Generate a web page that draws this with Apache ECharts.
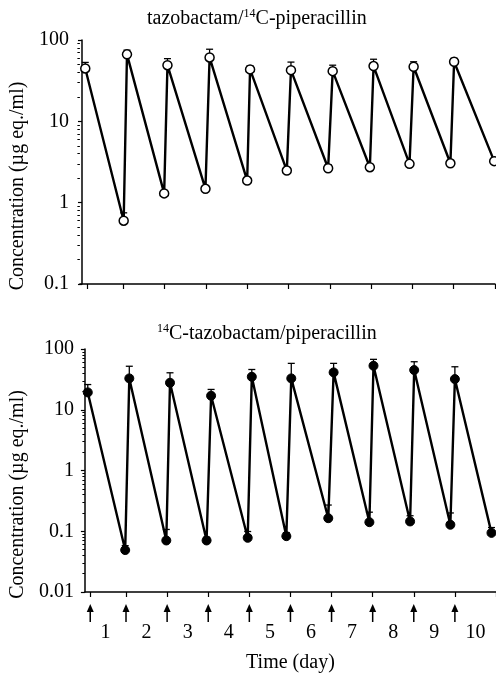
<!DOCTYPE html>
<html>
<head>
<meta charset="utf-8">
<script src="https://cdn.jsdelivr.net/npm/echarts@6/dist/echarts.min.js"></script>
<style>
  html, body { margin: 0; padding: 0; background: #fff; }
  #chart { width: 496px; height: 677px; }
</style>
</head>
<body>
<div id="chart"></div>
<script>
// top panel: tazobactam / 14C-piperacillin (open circles)
const pipTime = [0.08, 1.01, 1.09, 1.99, 2.07, 2.99, 3.09, 4.0, 4.07, 4.96, 5.06, 5.96, 6.07, 6.97, 7.06, 7.93, 8.03, 8.92, 9.01, 9.98]
const pipConc = [44.7, 0.6, 66.6, 1.3, 49, 1.48, 61, 1.87, 43.5, 2.48, 42.6, 2.65, 41.4, 2.73, 47.8, 3.0, 46.9, 3.05, 54, 3.24]
const pipUpper = [53, 0.75, 75, 1.4, 59, 1.6, 77, 2.0, 48, 2.7, 53.5, 2.93, 49, 2.9, 58, 3.2, 54, 3.25, 59.5, 3.4]

// bottom panel: 14C-tazobactam / piperacillin (filled circles)
const tazTime = [0.07, 0.98, 1.08, 1.98, 2.07, 2.96, 3.07, 3.96, 4.06, 4.9, 5.02, 5.92, 6.05, 6.92, 7.02, 7.91, 8.01, 8.89, 9.0, 9.89]
const tazConc = [19.3, 0.049, 32.8, 0.0705, 27.8, 0.0705, 17, 0.078, 34.9, 0.083, 32.8, 0.164, 41.2, 0.141, 53, 0.145, 45, 0.128, 32, 0.094]
const tazUpper = [26, 0.058, 52, 0.107, 40.6, 0.08, 21.6, 0.099, 46, 0.095, 58, 0.27, 58, 0.206, 67.6, 0.18, 61.7, 0.2, 51, 0.115]

// dosing times (arrows) and axis ticks
const doseTimes = [0.13, 1, 2, 3, 4, 5, 6, 7, 8, 9]
const xTicks = doseTimes.concat([10])
const dayPos = [0.5, 1.5, 2.5, 3.5, 4.5, 5.5, 6.5, 7.5, 8.5, 9.5]
const dayLabels = ['1', '2', '3', '4', '5', '6', '7', '8', '9', '10']

const topMajor = [0.1, 1, 10, 100]
const bottomMajor = [0.01, 0.1, 1, 10, 100]

const font = 'Liberation Serif'

function minorTicks(major) {
  const out = []
  for (let i = 0; i < major.length - 1; i++) {
    for (let k = 2; k <= 9; k++) out.push(+(major[i] * k).toPrecision(3))
  }
  return out
}

function yAxes(gridIndex, major) {
  return [
    {
      type: 'log', logBase: 10, gridIndex: gridIndex, position: 'left',
      min: major[0], max: major[major.length - 1],
      axisLine: { lineStyle: { color: '#000', width: 1.5 } },
      axisTick: { inside: false, length: 4, customValues: major, lineStyle: { color: '#000', width: 1.2 } },
      axisLabel: {
        customValues: major, margin: 11, color: '#000', fontFamily: font, fontSize: 20,
        formatter: v => String(+v.toPrecision(3))
      },
      splitLine: { show: false },
      name: 'Concentration (µg eq./ml)', nameLocation: 'middle', nameGap: 49,
      nameTextStyle: { fontFamily: font, fontSize: 20, color: '#000', padding: [0, 48, 0, 0] }
    },
    {
      type: 'log', logBase: 10, gridIndex: gridIndex, position: 'left',
      min: major[0], max: major[major.length - 1],
      axisLine: { show: false },
      axisTick: { length: 2.5, customValues: minorTicks(major), lineStyle: { color: '#000', width: 1 } },
      axisLabel: { show: false },
      splitLine: { show: false }
    }
  ]
}

function errorBars(times, conc, upper, xi, yi) {
  return {
    type: 'custom', xAxisIndex: xi, yAxisIndex: yi, z: 1,
    data: times.map((t, i) => [t, conc[i], upper[i]]),
    encode: { x: 0, y: [1, 2] },
    renderItem: (params, api) => {
      const p0 = api.coord([api.value(0), api.value(1)])
      const p1 = api.coord([api.value(0), api.value(2)])
      const st = { stroke: '#000', lineWidth: 1.3 }
      return {
        type: 'group',
        children: [
          { type: 'line', shape: { x1: p0[0], y1: p0[1], x2: p1[0], y2: p1[1] }, style: st },
          { type: 'line', shape: { x1: p1[0] - 3.5, y1: p1[1], x2: p1[0] + 3.5, y2: p1[1] }, style: st }
        ]
      }
    }
  }
}

const chart = echarts.init(document.getElementById('chart'), null, { renderer: 'canvas' })

const supRich = {
  a: { fontFamily: font, fontSize: 20, fontWeight: 'normal', color: '#000', lineHeight: 22 },
  s: { fontFamily: font, fontSize: 12, fontWeight: 'normal', color: '#000', verticalAlign: 'top', lineHeight: 12 }
}

chart.setOption({
  animation: false,
  backgroundColor: '#fff',
  title: [
    { text: '{a|tazobactam/}{s|14}{a|C-piperacillin}', left: 142, top: 3, textStyle: { fontWeight: 'normal', rich: supRich } },
    { text: '{s|14}{a|C-tazobactam/piperacillin}', left: 152, top: 318, textStyle: { fontWeight: 'normal', rich: supRich } }
  ],
  grid: [
    { left: 78, top: 40, width: 417, height: 244 },
    { left: 81, top: 349, width: 416, height: 243 }
  ],
  xAxis: [
    {
      type: 'value', gridIndex: 0, position: 'bottom', min: -0.05, max: 10,
      axisLine: { onZero: false, lineStyle: { color: '#000', width: 1.5 } },
      axisTick: { length: 5, customValues: xTicks, lineStyle: { color: '#000', width: 1.2 } },
      axisLabel: { show: false },
      splitLine: { show: false }
    },
    {
      type: 'value', gridIndex: 1, position: 'bottom', min: 0, max: 10,
      axisLine: { onZero: false, lineStyle: { color: '#000', width: 1.5 } },
      axisTick: { length: 5, customValues: xTicks, lineStyle: { color: '#000', width: 1.2 } },
      axisLabel: {
        customValues: dayPos, margin: 31, color: '#000', fontFamily: font, fontSize: 20,
        formatter: v => dayLabels[dayPos.indexOf(v)]
      },
      splitLine: { show: false },
      name: 'Time (day)', nameLocation: 'middle', nameGap: 61,
      nameTextStyle: { fontFamily: font, fontSize: 20, color: '#000' }
    }
  ],
  yAxis: yAxes(0, topMajor).concat(yAxes(1, bottomMajor)),
  series: [
    errorBars(pipTime, pipConc, pipUpper, 0, 0),
    {
      type: 'line', xAxisIndex: 0, yAxisIndex: 0, z: 3,
      data: pipTime.map((t, i) => [t, pipConc[i]]),
      symbol: 'circle', symbolSize: 9,
      lineStyle: { color: '#000', width: 2.4 },
      itemStyle: { color: '#fff', borderColor: '#000', borderWidth: 1.5 }
    },
    errorBars(tazTime, tazConc, tazUpper, 1, 2),
    {
      type: 'line', xAxisIndex: 1, yAxisIndex: 2, z: 3,
      data: tazTime.map((t, i) => [t, tazConc[i]]),
      symbol: 'circle', symbolSize: 9,
      lineStyle: { color: '#000', width: 2.4 },
      itemStyle: { color: '#000', borderColor: '#000', borderWidth: 1 }
    },
    {
      // dose arrows under the bottom axis
      type: 'custom', xAxisIndex: 1, yAxisIndex: 2, clip: false, silent: true,
      data: doseTimes.map(t => [t, bottomMajor[0]]),
      encode: { x: 0, y: 1 },
      renderItem: (params, api) => {
        const p = api.coord([api.value(0), api.value(1)])
        return {
          type: 'group',
          children: [
            { type: 'line', shape: { x1: p[0], y1: p[1] + 18, x2: p[0], y2: p[1] + 30 }, style: { stroke: '#000', lineWidth: 1.5 } },
            { type: 'polygon', shape: { points: [[p[0], p[1] + 12], [p[0] - 3.5, p[1] + 20], [p[0] + 3.5, p[1] + 20]] }, style: { fill: '#000' } }
          ]
        }
      }
    }
  ]
})
</script>
</body>
</html>
